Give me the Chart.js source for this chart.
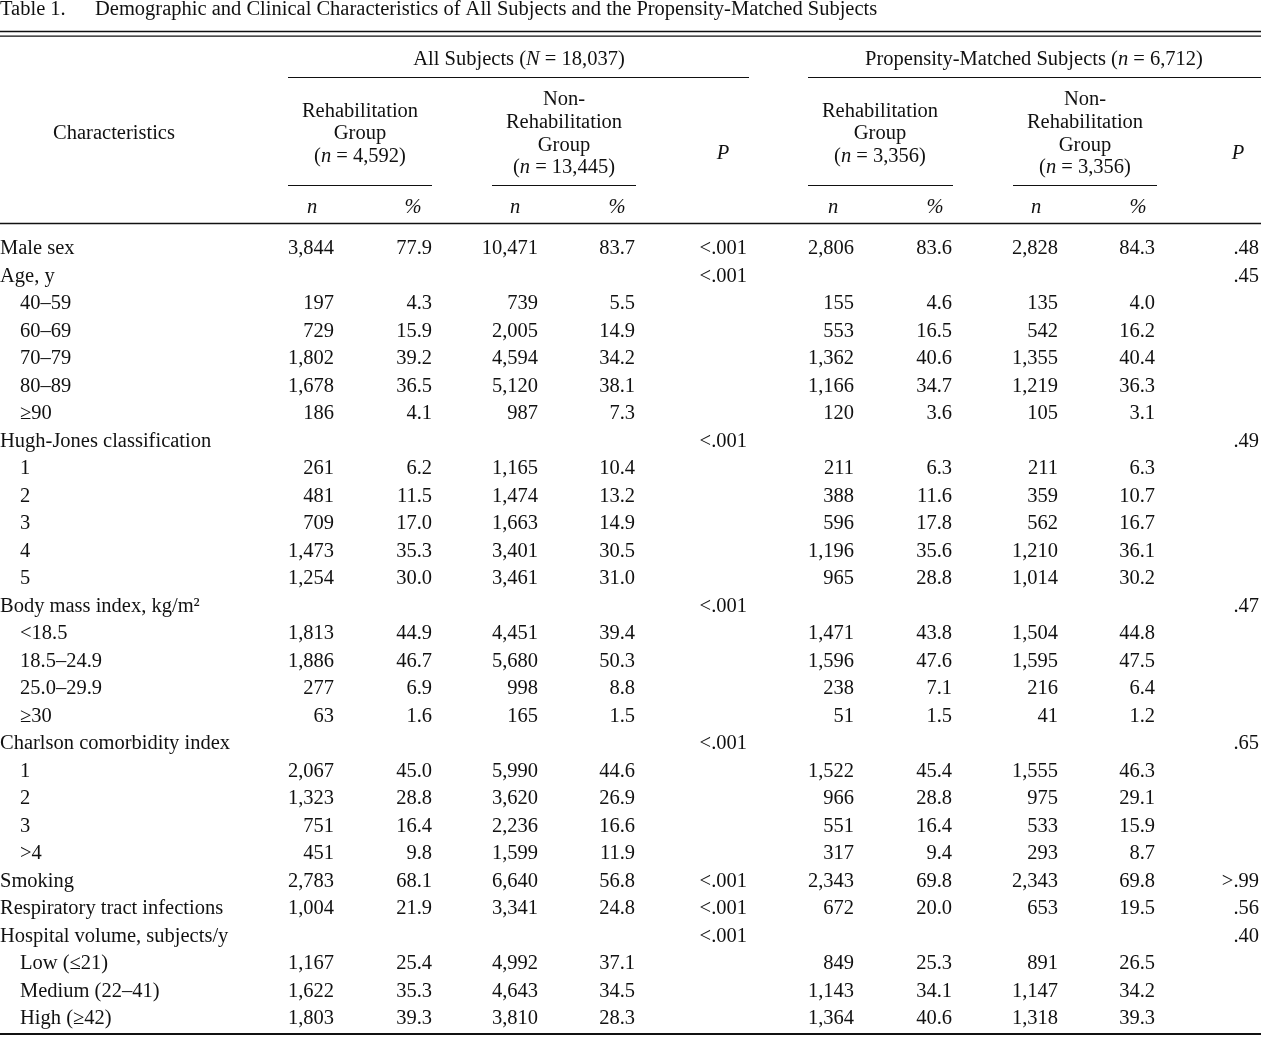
<!DOCTYPE html>
<html>
<head>
<meta charset="utf-8">
<script src="https://cdn.jsdelivr.net/npm/chart.js@4/dist/chart.umd.min.js"></script>
<style>
  html, body { margin: 0; padding: 0; background: #fff; }
  #wrap { position: relative; width: 1261px; height: 1037px; }
</style>
</head>
<body>
<div id="wrap"><canvas id="tableChart"></canvas></div>
<script>
// Data (Rows)
const rowLabels = [
    'Male sex', 'Age, y', '40–59', '60–69', '70–79', '80–89', '≥90',
    'Hugh-Jones classification', '1', '2', '3', '4', '5',
    'Body mass index, kg/m²', '<18.5', '18.5–24.9', '25.0–29.9', '≥30',
    'Charlson comorbidity index', '1', '2', '3', '>4',
    'Smoking', 'Respiratory tract infections',
    'Hospital volume, subjects/y', 'Low (≤21)', 'Medium (22–41)', 'High (≥42)'
];
const rowIndent = [0, 0, 1, 1, 1, 1, 1, 0, 1, 1, 1, 1, 1, 0, 1, 1, 1, 1, 0, 1, 1, 1, 1, 0, 0, 0, 1, 1, 1];

// Data (All subjects)
const allRehabN = ['3,844', '', '197', '729', '1,802', '1,678', '186', '', '261', '481', '709', '1,473', '1,254', '', '1,813', '1,886', '277', '63', '', '2,067', '1,323', '751', '451', '2,783', '1,004', '', '1,167', '1,622', '1,803'];
const allRehabPct = ['77.9', '', '4.3', '15.9', '39.2', '36.5', '4.1', '', '6.2', '11.5', '17.0', '35.3', '30.0', '', '44.9', '46.7', '6.9', '1.6', '', '45.0', '28.8', '16.4', '9.8', '68.1', '21.9', '', '25.4', '35.3', '39.3'];
const allNonN = ['10,471', '', '739', '2,005', '4,594', '5,120', '987', '', '1,165', '1,474', '1,663', '3,401', '3,461', '', '4,451', '5,680', '998', '165', '', '5,990', '3,620', '2,236', '1,599', '6,640', '3,341', '', '4,992', '4,643', '3,810'];
const allNonPct = ['83.7', '', '5.5', '14.9', '34.2', '38.1', '7.3', '', '10.4', '13.2', '14.9', '30.5', '31.0', '', '39.4', '50.3', '8.8', '1.5', '', '44.6', '26.9', '16.6', '11.9', '56.8', '24.8', '', '37.1', '34.5', '28.3'];
const allP = ['<.001', '<.001', '', '', '', '', '', '<.001', '', '', '', '', '', '<.001', '', '', '', '', '<.001', '', '', '', '', '<.001', '<.001', '<.001', '', '', ''];

// Data (Propensity-matched subjects)
const pmRehabN = ['2,806', '', '155', '553', '1,362', '1,166', '120', '', '211', '388', '596', '1,196', '965', '', '1,471', '1,596', '238', '51', '', '1,522', '966', '551', '317', '2,343', '672', '', '849', '1,143', '1,364'];
const pmRehabPct = ['83.6', '', '4.6', '16.5', '40.6', '34.7', '3.6', '', '6.3', '11.6', '17.8', '35.6', '28.8', '', '43.8', '47.6', '7.1', '1.5', '', '45.4', '28.8', '16.4', '9.4', '69.8', '20.0', '', '25.3', '34.1', '40.6'];
const pmNonN = ['2,828', '', '135', '542', '1,355', '1,219', '105', '', '211', '359', '562', '1,210', '1,014', '', '1,504', '1,595', '216', '41', '', '1,555', '975', '533', '293', '2,343', '653', '', '891', '1,147', '1,318'];
const pmNonPct = ['84.3', '', '4.0', '16.2', '40.4', '36.3', '3.1', '', '6.3', '10.7', '16.7', '36.1', '30.2', '', '44.8', '47.5', '6.4', '1.2', '', '46.3', '29.1', '15.9', '8.7', '69.8', '19.5', '', '26.5', '34.2', '39.3'];
const pmP = ['.48', '.45', '', '', '', '', '', '.49', '', '', '', '', '', '.47', '', '', '', '', '.65', '', '', '', '', '>.99', '.56', '.40', '', '', ''];

// Data (Headers)
const titleLabel = 'Table 1.';
const titleText = 'Demographic and Clinical Characteristics of All Subjects and the Propensity-Matched Subjects';
const cohortTitles = [
    [['All Subjects ('], ['N', true], [' = 18,037)']],
    [['Propensity-Matched Subjects ('], ['n', true], [' = 6,712)']]
];
const groupSizes = ['4,592', '13,445', '3,356', '3,356'];

// Layout (Constants)
const FONT = '"Liberation Serif", "Times New Roman", serif';
const FONT_SIZE = 20.5;
const INK = '#111';
const ROW_TOP = 254;      // baseline of first body row
const ROW_STEP = 27.5;
const H = 1037;
const W = 1261;
const colRight = [334, 432, 538, 635, 747, 854, 952, 1058, 1155, 1259];
const columns = [allRehabN, allRehabPct, allNonN, allNonPct, allP, pmRehabN, pmRehabPct, pmNonN, pmNonPct, pmP];

// Datasets (one per column, text drawn at the element positions)
function makeDataset (values, xPos, align) {
    return {
        data: values.map((v, i) => ({ x: xPos, y: i, text: v })),
        align: align,
        pointRadius: 0,
        showLine: false
    };
}

const datasets = columns.map((col, c) => makeDataset(col, colRight[c], 'right'));
datasets.push({
    data: rowLabels.map((v, i) => ({ x: rowIndent[i] ? 20 : 0, y: i, text: v })),
    align: 'left',
    pointRadius: 0,
    showLine: false
});

// Helpers
function setFont (ctx, italic) {
    ctx.font = (italic ? 'italic ' : '') + FONT_SIZE + 'px ' + FONT;
}

function drawRich (ctx, parts, x, y, align) { // mixed roman / italic text
    let total = 0;
    parts.forEach(p => { setFont(ctx, p[1]); total += ctx.measureText(p[0]).width; });
    let cx = align === 'center' ? x - total / 2 : (align === 'right' ? x - total : x);
    ctx.textAlign = 'left';
    parts.forEach(p => {
        setFont(ctx, p[1]);
        ctx.fillText(p[0], cx, y);
        cx += ctx.measureText(p[0]).width;
    });
}

function hLine (ctx, x1, x2, y, w) {
    ctx.beginPath();
    ctx.lineWidth = w;
    ctx.moveTo(x1, y);
    ctx.lineTo(x2, y);
    ctx.stroke();
}

// Table plugin
const tablePlugin = {
    id: 'tableText',
    afterDatasetsDraw (chart) {
        const ctx = chart.ctx;
        ctx.save();
        ctx.fillStyle = INK;
        ctx.strokeStyle = INK;
        ctx.textBaseline = 'alphabetic';

        // Body cells
        chart.data.datasets.forEach((ds, d) => {
            const meta = chart.getDatasetMeta(d);
            meta.data.forEach((el, i) => {
                const txt = ds.data[i].text;
                if (!txt) return;
                setFont(ctx, false);
                ctx.textAlign = ds.align;
                ctx.fillText(txt, el.x, el.y);
            });
        });

        // Title
        setFont(ctx, false);
        ctx.textAlign = 'left';
        ctx.fillText(titleLabel, 0, 15);
        ctx.fillText(titleText, 95, 15);

        // Rules
        hLine(ctx, 0, W, 31.5, 1.3);
        hLine(ctx, 0, W, 36.2, 1.3);
        hLine(ctx, 288, 749, 77.5, 1.2);
        hLine(ctx, 808, W, 77.5, 1.2);
        [[288, 432], [492, 636], [808, 953], [1013, 1157]].forEach(s => hLine(ctx, s[0], s[1], 185.5, 1.2));
        hLine(ctx, 0, W, 223.5, 1.5);
        hLine(ctx, 0, W, 1034, 2);

        // Header text
        drawRich(ctx, cohortTitles[0], 519, 65, 'center');
        drawRich(ctx, cohortTitles[1], 1034, 65, 'center');
        drawRich(ctx, [['Characteristics']], 114, 139, 'center');

        const rehabCenters = [360, 880];
        const nonCenters = [564, 1085];
        rehabCenters.forEach((cx, k) => {
            drawRich(ctx, [['Rehabilitation']], cx, 117, 'center');
            drawRich(ctx, [['Group']], cx, 139, 'center');
            drawRich(ctx, [['('], ['n', true], [' = ' + groupSizes[k * 2] + ')']], cx, 162, 'center');
        });
        nonCenters.forEach((cx, k) => {
            drawRich(ctx, [['Non-']], cx, 105, 'center');
            drawRich(ctx, [['Rehabilitation']], cx, 128, 'center');
            drawRich(ctx, [['Group']], cx, 151, 'center');
            drawRich(ctx, [['('], ['n', true], [' = ' + groupSizes[k * 2 + 1] + ')']], cx, 173, 'center');
        });
        drawRich(ctx, [['P', true]], 723, 159, 'center');
        drawRich(ctx, [['P', true]], 1238, 159, 'center');

        [312, 515, 833, 1036].forEach(cx => drawRich(ctx, [['n', true]], cx, 213, 'center'));
        [413, 617, 935, 1138].forEach(cx => drawRich(ctx, [['%', true]], cx, 213, 'center'));

        ctx.restore();
    }
};

// Chart Setup
const yMin = -ROW_TOP / ROW_STEP;
const yMax = yMin + H / ROW_STEP;

const ctx = document.getElementById('tableChart').getContext('2d');
const tableChart = new Chart(ctx, {
    type: 'scatter',
    data: { datasets: datasets },
    options: {
        responsive: true,
        maintainAspectRatio: false,
        animation: false,
        events: [],
        layout: { padding: 0 },
        plugins: {
            legend: { display: false },
            tooltip: { enabled: false }
        },
        scales: {
            x: { type: 'linear', min: 0, max: W, display: false },
            y: { type: 'linear', min: yMin, max: yMax, reverse: true, display: false }
        }
    },
    plugins: [tablePlugin]
});
</script>
</body>
</html>
